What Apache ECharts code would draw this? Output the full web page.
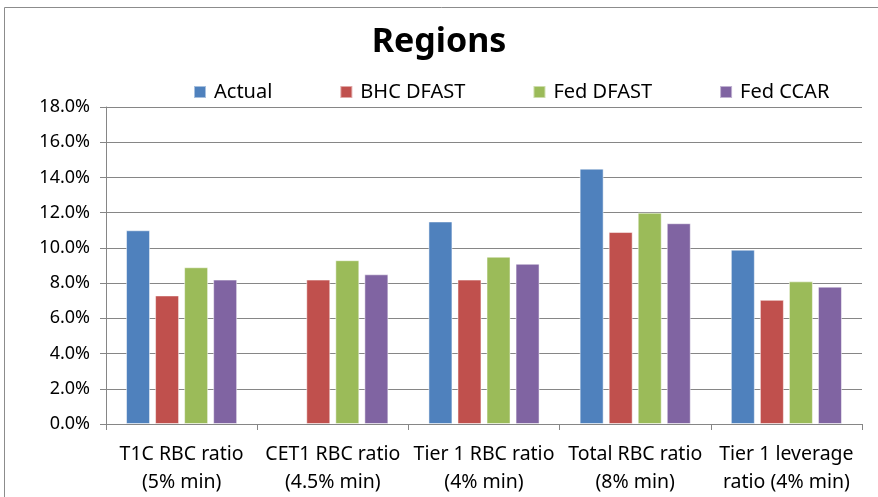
<!DOCTYPE html>
<html><head><meta charset="utf-8">
<script src="https://cdn.jsdelivr.net/npm/echarts@6/dist/echarts.min.js"></script>
<style>html,body{margin:0;padding:0;background:#fff}#c{width:878px;height:497px}</style>
</head><body><div id="c"></div>
<script>
const categories = ['T1C RBC ratio\n(5% min)', 'CET1 RBC ratio\n(4.5% min)', 'Tier 1 RBC ratio\n(4% min)', 'Total RBC ratio\n(8% min)', 'Tier 1 leverage\nratio (4% min)'];
const actual = [11.0, null, 11.5, 14.5, 9.9];
const bhcDfast = [7.3, 8.2, 8.2, 10.9, 7.05];
const fedDfast = [8.9, 9.3, 9.5, 12.0, 8.1];
const fedCcar = [8.2, 8.5, 9.1, 11.4, 7.8];
const seriesNames = ['Actual', 'BHC DFAST', 'Fed DFAST', 'Fed CCAR'];
const colors = ['#4F81BD', '#C0504D', '#9BBB59', '#8064A2'];
const FONT = '"Noto Sans", sans-serif';

const chart = echarts.init(document.getElementById('c'), null, {renderer: 'canvas'});
const mk = (name, data, i) => ({
  name, type: 'bar', data, barWidth: 24, barGap: '21%',
  itemStyle: {color: colors[i], borderColor: 'rgba(255,255,255,0.5)', borderWidth: 1}
});
chart.setOption({
  animation: false,
  textStyle: {fontFamily: FONT},
  graphic: [{type: 'rect', shape: {x: 4.5, y: 7.5, width: 900, height: 520}, style: {fill: 'none', stroke: '#8c8c8c', lineWidth: 1}, silent: true}],
  title: {text: 'Regions', left: 'center', top: 20, textStyle: {fontFamily: FONT, fontSize: 34, fontWeight: 'bold', color: '#000'}},
  legend: {top: 77, left: 188, itemGap: 67, itemWidth: 12, itemHeight: 12, icon: 'rect',
    data: seriesNames, textStyle: {fontFamily: FONT, fontSize: 20, color: '#000', padding: [0,0,0,3]}},
  grid: {left: 106, right: 16, top: 107, bottom: 73},
  xAxis: {type: 'category', data: categories,
    axisLine: {lineStyle: {color: '#868686', width: 1}},
    axisTick: {show: true, length: 6, lineStyle: {color: '#868686'}},
    axisLabel: {color: '#000', fontSize: 19.5, lineHeight: 28, margin: 16, interval: 0, fontFamily: FONT}},
  yAxis: {type: 'value', min: 0, max: 18, interval: 2,
    axisLine: {show: true, lineStyle: {color: '#868686'}},
    axisTick: {show: true, length: 6, lineStyle: {color: '#868686'}},
    splitLine: {lineStyle: {color: '#868686', width: 1}},
    axisLabel: {color: '#000', fontSize: 18, margin: 16, formatter: v => v.toFixed(1) + '%', fontFamily: FONT}},
  series: [mk(seriesNames[0], actual, 0), mk(seriesNames[1], bhcDfast, 1), mk(seriesNames[2], fedDfast, 2), mk(seriesNames[3], fedCcar, 3)]
});
</script></body></html>
